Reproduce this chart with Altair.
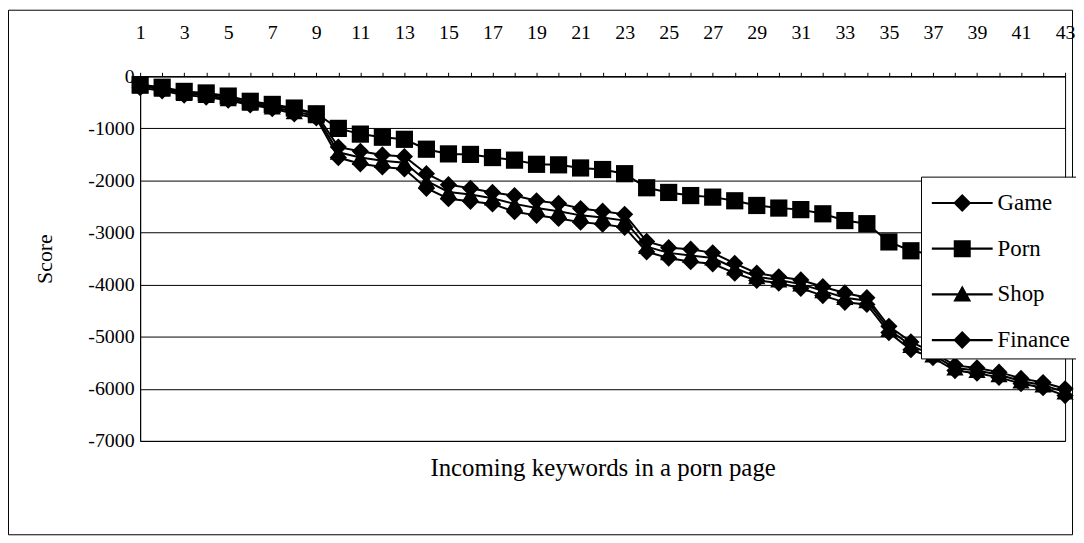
import altair as alt
import pandas as pd

# ---------------- data ----------------
keywords = list(range(1, 44))
series_names = ["Game", "Porn", "Shop", "Finance"]

# Porn points after 37 are hidden by the legend box in the reference
porn = [-160, -210, -290, -320, -380, -480, -540, -610, -720, -1000,
        -1110, -1170, -1210, -1400, -1490, -1500, -1560, -1610, -1690, -1700,
        -1760, -1790, -1870, -2140, -2230, -2290, -2320, -2390, -2480, -2530,
        -2560, -2640, -2770, -2830, -3180, -3350, -3420]

game = [-170, -230, -300, -340, -400, -490, -560, -640, -720, -1360,
        -1440, -1510, -1540, -1870, -2080, -2150, -2230, -2290, -2390, -2440,
        -2540, -2590, -2650, -3170, -3290, -3320, -3390, -3590, -3780, -3850,
        -3910, -4040, -4160, -4250, -4800, -5100, -5300, -5550, -5600, -5680,
        -5800, -5880, -6000]

shop = [-190, -250, -330, -370, -430, -520, -590, -680, -760, -1460,
        -1560, -1620, -1660, -2010, -2220, -2270, -2340, -2450, -2530, -2590,
        -2670, -2710, -2770, -3270, -3390, -3440, -3490, -3680, -3850, -3910,
        -3990, -4120, -4250, -4310, -4860, -5170, -5350, -5600, -5650, -5730,
        -5850, -5930, -6060]

finance = [-220, -280, -360, -400, -460, -550, -620, -720, -800, -1560,
           -1680, -1740, -1780, -2150, -2350, -2400, -2450, -2600, -2670, -2730,
           -2800, -2840, -2900, -3370, -3490, -3560, -3600, -3780, -3920, -3970,
           -4070, -4210, -4340, -4380, -4920, -5250, -5400, -5650, -5700, -5780,
           -5900, -5980, -6130]

y_ticks = [0, -1000, -2000, -3000, -4000, -5000, -6000, -7000]
x_title = "Incoming keywords in a porn page"
y_title = "Score"

rows = []
for name, vals in [("Game", game), ("Shop", shop), ("Finance", finance), ("Porn", porn)]:
    for k, v in zip(keywords, vals):
        rows.append({"keyword": k, "score": v, "series": name})
df = pd.DataFrame(rows)

FONT = "Liberation Serif"
W, H = 931, 367

x_enc = alt.X(
    "keyword:Q",
    scale=alt.Scale(domain=[1, 43], nice=False, zero=False),
    axis=alt.Axis(
        orient="top", values=keywords,
        labelExpr="datum.value % 2 == 1 ? datum.label : ''",
        grid=False, tickSize=4, labelPadding=30, labelFlush=False,
        labelOverlap=False,
        titleX=W / 2, titleY=H + 27, titleAlign="center", titleBaseline="middle",
        titleFontSize=25,
    ),
    title=x_title,
)
y_enc = alt.Y(
    "score:Q",
    scale=alt.Scale(domain=[-7000, 0], nice=False, zero=False),
    axis=alt.Axis(
        values=y_ticks, labelExpr="'' + datum.value", grid=True, ticks=False,
        labelPadding=6,
        titleX=-96, titleY=H / 2, titleAlign="center", titleBaseline="middle",
        titleAngle=270, titleFontSize=22,
    ),
    title=y_title,
)

lines = alt.Chart(df).mark_line(color="black", strokeWidth=2).encode(
    x=x_enc, y=y_enc, detail="series:N"
)

points = alt.Chart(df).transform_calculate(
    order="datum.series == 'Porn' ? 1 : 0"
).mark_point(filled=True, color="black", opacity=1, size=300).encode(
    x=x_enc, y=y_enc,
    shape=alt.Shape(
        "series:N",
        scale=alt.Scale(domain=series_names,
                        range=["diamond", "square", "triangle-up", "diamond"]),
        legend=None,
    ),
    order=alt.Order("order:Q"),
)

# legend-only layer: symbols are marker + line segment
bar = "M-3.4,-0.12L3.4,-0.12L3.4,0.12L-3.4,0.12Z"
legend_paths = [
    bar + "M-1,0L0,-1L1,0L0,1Z",
    bar + "M-0.95,-0.95L0.95,-0.95L0.95,0.95L-0.95,0.95Z",
    bar + "M0,-1L1,0.8L-1,0.8Z",
    bar + "M-1,0L0,-1L1,0L0,1Z",
]
legend_layer = alt.Chart(df).transform_filter("false").mark_point(
    filled=True, color="black", opacity=1
).encode(
    x=x_enc, y=y_enc,
    shape=alt.Shape(
        "series:N",
        scale=alt.Scale(domain=series_names, range=legend_paths),
        legend=alt.Legend(
            title=" ", titleFontSize=7, titlePadding=2,
            orient="none", legendX=786, legendY=101,
            fillColor="white", strokeColor="black", padding=6,
            symbolSize=324, symbolFillColor="black", symbolStrokeWidth=0,
            symbolOffset=24, labelOffset=24, rowPadding=22,
            labelFont=FONT, labelFontSize=23, labelColor="black",
            labelLimit=200,
        ),
    ),
)

frame = alt.Chart(pd.DataFrame({"a": [0]})).mark_rect(
    fill="transparent", stroke="black", strokeWidth=1
).encode(
    x=alt.value(-132.5), x2=alt.value(W + 7.5),
    y=alt.value(-66.5), y2=alt.value(H + 94.5),
)

chart = alt.layer(frame, lines, points, legend_layer).resolve_scale(
    shape="independent"
).resolve_legend(shape="independent").properties(
    width=W, height=H,
    autosize=alt.AutoSizeParams(type="none"),
    padding={"left": 133, "top": 67, "right": 11, "bottom": 95},
    background="white",
).configure_view(
    stroke="black", strokeWidth=1
).configure_axis(
    labelFont=FONT, labelFontSize=20, labelColor="black",
    titleFont=FONT, titleColor="black", titleFontWeight="normal",
    domainColor="black", domainWidth=1, tickColor="black",
    gridColor="black", gridOpacity=1, gridWidth=1,
)

chart.save("out.html", embed_options={"renderer": "svg", "actions": False})
